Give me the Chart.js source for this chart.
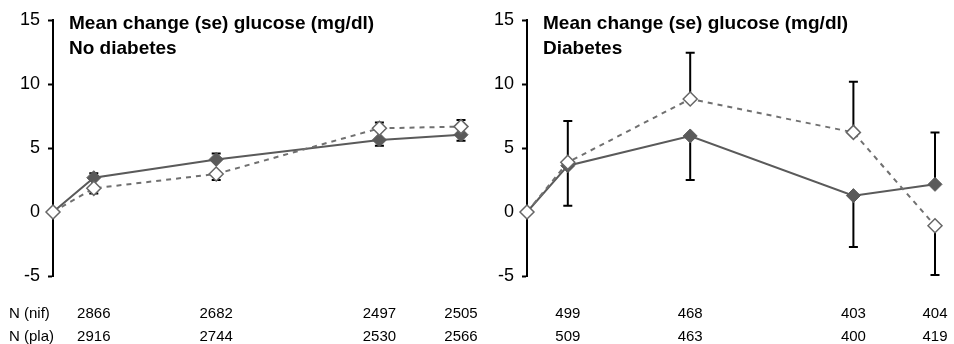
<!DOCTYPE html>
<html lang="en">
<head>
  <meta charset="UTF-8">
  <title>Mean change glucose</title>
  <script src="https://cdn.jsdelivr.net/npm/chart.js@4.4.0/dist/chart.umd.min.js"></script>
  <style>
    body { margin: 0; background: #fff; }
    .wrap { position: relative; width: 954px; height: 344px; }
    canvas { position: absolute; top: 0; }
  </style>
</head>
<body>
  <div class="wrap">
    <canvas id="noDiab" width="480" height="344" style="left:0"></canvas>
    <canvas id="diab" width="480" height="344" style="left:474px"></canvas>
  </div>

  <script>
    // months since baseline
    const months = [0, 3, 12, 24, 30];
    const yTicks = [-5, 0, 5, 10, 15];

    // no diabetes
    const noDiabNifMean = [0, 2.68, 4.11, 5.63, 6.04];
    const noDiabNifSe = [0, 0.35, 0.47, 0.45, 0.47];
    const noDiabPlaMean = [0, 1.85, 2.97, 6.54, 6.67];
    const noDiabPlaSe = [0, 0.40, 0.47, 0.46, 0.52];
    const noDiabNifN = [2866, 2682, 2497, 2505];
    const noDiabPlaN = [2916, 2744, 2530, 2566];

    // diabetes
    const diabNifMean = [0, 3.62, 5.94, 1.28, 2.16];
    const diabNifSe = [0, 3.13, 3.44, 4.01, 4.06];
    const diabPlaMean = [0, 3.88, 8.83, 6.22, -1.07];
    const diabPlaSe = [0, 3.23, 3.62, 3.96, 3.85];
    const diabNifN = [499, 468, 403, 404];
    const diabPlaN = [509, 463, 400, 419];

    const FONT = "'Liberation Sans', Arial, Helvetica, sans-serif";

    // error bars (one sided, away from the other group), title and N rows
    const panelPlugin = {
      id: 'panel',
      beforeDatasetsDraw(chart, args, o) {
        const ctx = chart.ctx;
        const x = chart.scales.x, y = chart.scales.y;
        ctx.save();
        ctx.strokeStyle = '#000';
        ctx.lineWidth = 2;
        months.forEach(function (m, i) {
          const nifUp = o.nifMean[i] >= o.plaMean[i];
          const bars = [
            [o.nifMean[i], o.nifSe[i], nifUp ? 1 : -1],
            [o.plaMean[i], o.plaSe[i], nifUp ? -1 : 1]
          ];
          bars.forEach(function (b) {
            if (!b[1]) return;
            const px = x.getPixelForValue(m);
            const y0 = y.getPixelForValue(b[0]);
            const y1 = y.getPixelForValue(b[0] + b[2] * b[1]);
            ctx.beginPath();
            ctx.moveTo(px, y0);
            ctx.lineTo(px, y1);
            ctx.moveTo(px - 4.5, y1);
            ctx.lineTo(px + 4.5, y1);
            ctx.stroke();
          });
        });
        ctx.restore();
      },
      afterDraw(chart, args, o) {
        const ctx = chart.ctx;
        const area = chart.chartArea;
        const x = chart.scales.x;
        ctx.save();
        ctx.fillStyle = '#000';
        ctx.font = 'bold 19px ' + FONT;
        ctx.textAlign = 'left';
        ctx.textBaseline = 'alphabetic';
        ctx.fillText(o.title[0], area.left + 16, 29);
        ctx.fillText(o.title[1], area.left + 16, 54);

        ctx.font = '15px ' + FONT;
        ctx.textBaseline = 'middle';
        if (o.rowLabels) {
          ctx.fillText(o.rowLabels[0], 9, 314);
          ctx.fillText(o.rowLabels[1], 9, 337);
        }
        ctx.textAlign = 'center';
        o.nifN.forEach(function (n, i) {
          const px = x.getPixelForValue(months[i + 1]);
          ctx.fillText(String(n), px, 314);
          ctx.fillText(String(o.plaN[i]), px, 337);
        });
        ctx.restore();
      }
    };

    function makePanel(id, title, nifMean, nifSe, plaMean, plaSe, nifN, plaN, rowLabels) {
      return new Chart(id, {
        type: 'line',
        data: {
          labels: months,
          datasets: [{
            label: 'nif',
            data: months.map((m, i) => ({ x: m, y: nifMean[i] })),
            borderColor: '#5a5a5a',
            borderWidth: 2,
            pointStyle: 'rectRot',
            pointRadius: 7,
            pointBackgroundColor: '#5a5a5a',
            pointBorderColor: '#5a5a5a',
            pointBorderWidth: 1,
            clip: false,
            order: 1
          }, {
            label: 'pla',
            data: months.map((m, i) => ({ x: m, y: plaMean[i] })),
            borderColor: '#707070',
            borderWidth: 2,
            borderDash: [5, 5],
            pointStyle: 'rectRot',
            pointRadius: 7,
            pointBackgroundColor: '#fff',
            pointBorderColor: '#666',
            pointBorderWidth: 1.5,
            pointBorderDash: [],
            clip: false,
            order: 0
          }]
        },
        options: {
          responsive: false,
          animation: false,
          devicePixelRatio: 1,
          layout: { padding: { top: 20, bottom: 68, right: 19, left: 0 } },
          plugins: {
            legend: { display: false },
            tooltip: { enabled: false },
            panel: {
              title: title,
              nifMean: nifMean, nifSe: nifSe,
              plaMean: plaMean, plaSe: plaSe,
              nifN: nifN, plaN: plaN,
              rowLabels: rowLabels
            }
          },
          scales: {
            x: { type: 'linear', min: months[0], max: months[months.length - 1], display: false },
            y: {
              min: yTicks[0],
              max: yTicks[yTicks.length - 1],
              afterFit: function (s) { s.width = 53; },
              afterBuildTicks: function (s) { s.ticks = yTicks.map(v => ({ value: v })); },
              grid: { drawOnChartArea: false, drawTicks: true, tickLength: 5, tickWidth: 2, color: '#000' },
              border: { display: true, color: '#000', width: 2 },
              ticks: { color: '#000', padding: 8, font: { size: 18, family: FONT } }
            }
          }
        },
        plugins: [panelPlugin]
      });
    }

    makePanel('noDiab', ['Mean change (se) glucose (mg/dl)', 'No diabetes'],
      noDiabNifMean, noDiabNifSe, noDiabPlaMean, noDiabPlaSe, noDiabNifN, noDiabPlaN,
      ['N (nif)', 'N (pla)']);
    makePanel('diab', ['Mean change (se) glucose (mg/dl)', 'Diabetes'],
      diabNifMean, diabNifSe, diabPlaMean, diabPlaSe, diabNifN, diabPlaN, null);
  </script>
</body>
</html>
